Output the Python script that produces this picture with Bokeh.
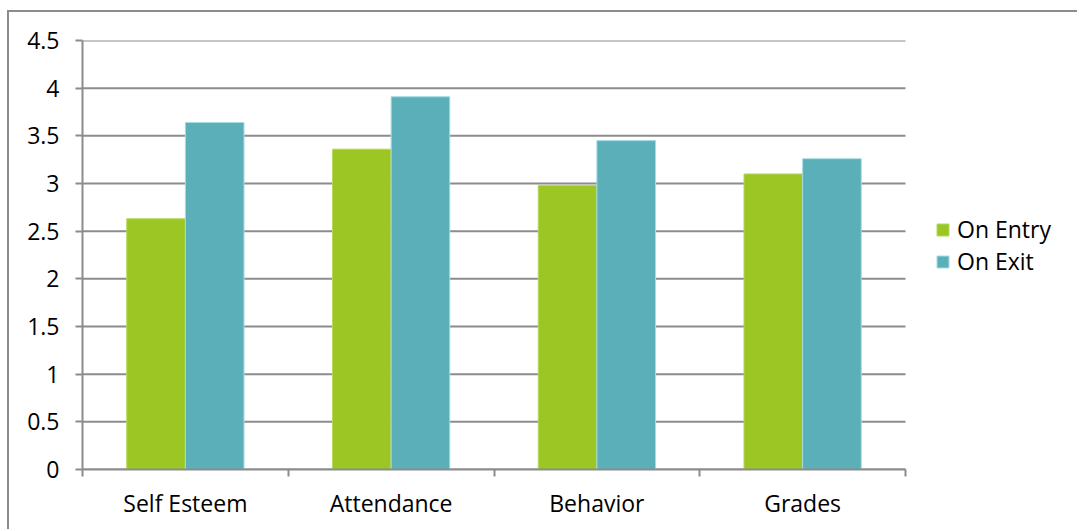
from bokeh.plotting import figure
from bokeh.models import FixedTicker, Legend, LegendItem, Range1d
from bokeh.embed import file_html
from bokeh.resources import INLINE

categories = ["Self Esteem", "Attendance", "Behavior", "Grades"]
series_names = ["On Entry", "On Exit"]
on_entry = [2.63, 3.36, 2.98, 3.10]
on_exit = [3.64, 3.91, 3.45, 3.26]
y_ticks = [0, 0.5, 1, 1.5, 2, 2.5, 3, 3.5, 4, 4.5]
y_tick_labels = ["0", "0.5", "1", "1.5", "2", "2.5", "3", "3.5", "4", "4.5"]

GRID = "#8c8c8c"
FONT = "Open Sans"
FS = "23px"
BAR_W = 0.285

n = len(categories)
# plot area spans the categories plus extra room on the right for the legend
X_MAX = n * 997.0 / 823.0
p = figure(width=1070, height=519,
           x_range=Range1d(0, X_MAX), y_range=Range1d(0, 4.5),
           output_backend="svg", toolbar_location=None,
           min_border_left=73, min_border_top=28,
           min_border_right=0, min_border_bottom=62)
p.margin = (10, 0, 0, 7)
p.styles = {"border-top": "2px solid #8c8c8c", "border-left": "2px solid #8c8c8c"}
p.outline_line_color = None
p.background_fill_color = "white"
p.border_fill_color = "white"

# horizontal grid lines over the category span only
p.segment(x0=[0] * len(y_ticks), x1=[n] * len(y_ticks), y0=y_ticks, y1=y_ticks,
          line_color=GRID, line_width=2)

centers = [i + 0.5 for i in range(n)]
x_entry = [c - BAR_W / 2 for c in centers]
x_exit = [c + BAR_W / 2 for c in centers]

r1 = p.vbar(x=x_entry, top=on_entry, bottom=0, width=BAR_W,
            fill_color="#9bc623", line_color="#b5d95a", line_width=1)
r2 = p.vbar(x=x_exit, top=on_exit, bottom=0, width=BAR_W,
            fill_color="#5aafb8", line_color="#a8dce2", line_width=1)

# y axis
ya = p.yaxis[0]
ya.ticker = FixedTicker(ticks=y_ticks)
ya.major_label_overrides = {t: l for t, l in zip(y_ticks, y_tick_labels)}
ya.axis_line_color = GRID
ya.axis_line_width = 2
ya.major_tick_line_color = GRID
ya.major_tick_line_width = 2
ya.major_tick_out = 7
ya.major_tick_in = 0
ya.minor_tick_line_color = None
ya.major_label_standoff = 16
ya.major_label_text_font = FONT
ya.major_label_text_font_size = FS
ya.major_label_text_color = "black"

# x axis
xa = p.xaxis[0]
xa.bounds = (0, n)
xa.ticker = FixedTicker(ticks=centers, minor_ticks=list(range(n + 1)))
xa.major_label_overrides = {c: cat for c, cat in zip(centers, categories)}
xa.axis_line_color = GRID
xa.axis_line_width = 2
xa.major_tick_line_color = None
xa.major_tick_out = 0
xa.major_tick_in = 0
xa.minor_tick_line_color = GRID
xa.minor_tick_line_width = 2
xa.minor_tick_out = 7
xa.minor_tick_in = 0
xa.major_label_standoff = 10
xa.major_label_text_font = FONT
xa.major_label_text_font_size = FS
xa.major_label_text_color = "black"

p.xgrid.grid_line_color = None
p.ygrid.grid_line_color = None

legend = Legend(items=[LegendItem(label=series_names[0], renderers=[r1]),
                       LegendItem(label=series_names[1], renderers=[r2])],
                location=(853, 192))
legend.border_line_color = None
legend.background_fill_alpha = 0
legend.label_text_font = FONT
legend.label_text_font_size = FS
legend.label_text_color = "black"
legend.glyph_width = 15
legend.glyph_height = 15
legend.label_height = 20
legend.spacing = -3
legend.label_standoff = 7
legend.padding = 0
legend.margin = 0
p.add_layout(legend, "center")

open("out.html", "w").write(file_html(p, INLINE))
